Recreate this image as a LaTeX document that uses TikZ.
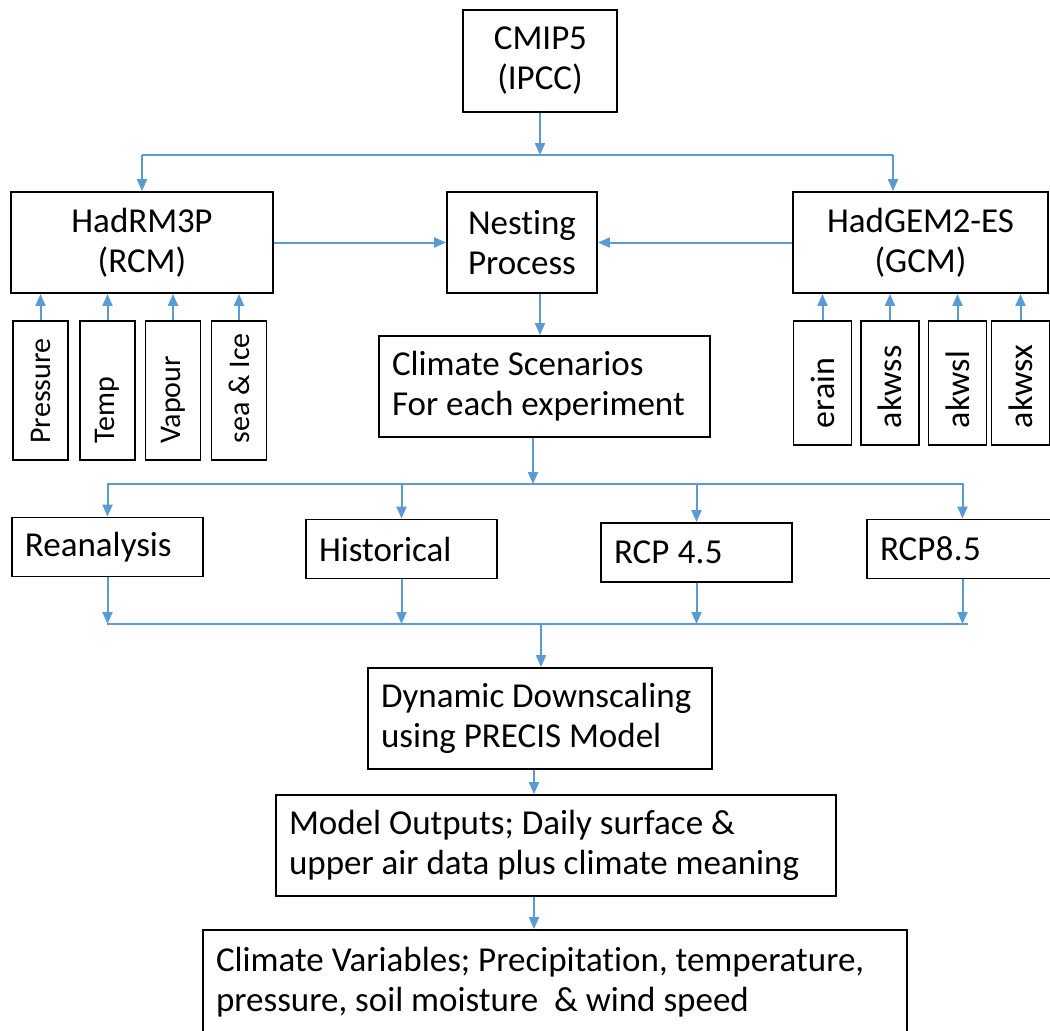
\documentclass[tikz,border=0pt]{standalone}
\usepackage{fontspec}
\setmainfont{Carlito}[Ligatures=CommonOff,Numbers=Proportional]
\usetikzlibrary{arrows.meta}
\definecolor{linkblue}{RGB}{91,155,213}

\begin{document}
\begin{tikzpicture}
  [x=0.5pt,y=-0.5pt,
   every node/.style={draw,line width=0.9pt,inner sep=0pt,font=\fontsize{17.5}{20}\selectfont},
   box/.style={align=center,minimum height=50.5pt},
   leftbox/.style={align=flush left,inner xsep=6.5pt,minimum height=50.5pt},
   runbox/.style={align=flush left,text width=82.5pt,inner xsep=6.5pt,minimum height=29.5pt},
   varbox/.style={minimum width=27.5pt,minimum height=69.5pt,font=\fontsize{15}{18}\selectfont},
   wire/.style={draw=linkblue,line width=1pt},
   link/.style={wire,->,>={Triangle[width=5pt,length=6pt]}}]
  \useasboundingbox (0,0) rectangle (1050,1030);

  % models
  \node[box,minimum width=77pt,minimum height=51pt] (cmip) at (540,61) {CMIP5\\(IPCC)};
  \node[box,minimum width=131pt] (rcm) at (142,242.5) {HadRM3P\\(RCM)};
  \node[box,minimum width=75pt] (nest) at (522,242.5) {Nesting\\Process};
  \node[box,minimum width=127.5pt] (gcm) at (920.5,242.5) {HadGEM2-ES\\(GCM)};

  \coordinate (topL) at (142,155);
  \coordinate (topM) at (540,155);
  \coordinate (topR) at (893,155);
  \draw[link] (cmip.south) -- (topM);
  \draw[wire] (topL) -- (topR);
  \draw[link] (topL) -- (rcm.north);
  \draw[link] (topR) -- (topR |- gcm.north);
  \draw[link] (rcm.east) -- (nest.west);
  \draw[link] (gcm.west) -- (nest.east);

  % model variables
  \foreach \name/\cx/\txt in {pres/40.5/Pressure, temp/107.5/Temp, vap/173/Vapour, sea/239/sea \& Ice}{
    \node[varbox] (\name) at (\cx,390.5) {\rotatebox{90}{\makebox[53pt][l]{\txt}}};
    \draw[link] (\name.north) -- (\name.north |- rcm.south);
  }
  \foreach \name/\cx in {erain/822.5, akwss/890, akwsl/957.5, akwsx/1020.5}{
    \node[varbox,minimum width=29pt,minimum height=62pt,font=\fontsize{17}{20}\selectfont] (\name) at (\cx,383) {\rotatebox{90}{\makebox[45pt][l]{\name}}};
    \draw[link] (\name.north) -- (\name.north |- gcm.south);
  }

  % scenarios
  \node[leftbox,text width=152.5pt] (scen) at (544.5,386.5) {Climate Scenarios\\For each experiment};
  \draw[link] (nest.south -| cmip.south) -- (scen.north -| cmip.south);

  \coordinate (splitL) at (107,484);
  \coordinate (splitM) at (533,484);
  \coordinate (splitR) at (964,484);
  \draw[link] (splitM |- scen.south) -- (splitM);
  \draw[wire] (splitL) -- (splitR);

  \node[runbox] (rean) at (107.5,547) {Reanalysis};
  \node[runbox] (hist) at (401.5,549) {Historical};
  \node[runbox] (rcpa) at (696.5,552.5) {RCP 4.5};
  \node[runbox] (rcpb) at (962.5,549) {RCP8.5};

  \coordinate (joinL) at (107,624);
  \coordinate (joinM) at (541,624);
  \coordinate (joinR) at (968,624);
  \draw[wire] (joinL) -- (joinR);
  \foreach \n in {rean,hist,rcpa,rcpb}{
    \draw[link] (\n.north |- splitL) -- (\n.north);
    \draw[link] (\n.south) -- (\n.south |- joinL);
  }

  % downscaling and outputs
  \node[leftbox,text width=159pt] (dyn) at (540,718.5) {Dynamic Downscaling\\using PRECIS Model};
  \node[leftbox,text width=267pt] (out) at (556,845.5) {Model Outputs; Daily surface \&\\upper air data plus climate meaning};
  \node[leftbox,text width=339pt,minimum height=52.5pt] (clim) at (555,982.5) {Climate Variables; Precipitation, temperature,\\pressure, soil moisture\ \ \& wind speed};

  \coordinate (midD) at (534,782);
  \draw[link] (joinM) -- (joinM |- dyn.north);
  \draw[link] (dyn.south -| midD) -- (out.north -| midD);
  \draw[link] (out.south -| midD) -- (clim.north -| midD);
\end{tikzpicture}
\end{document}
